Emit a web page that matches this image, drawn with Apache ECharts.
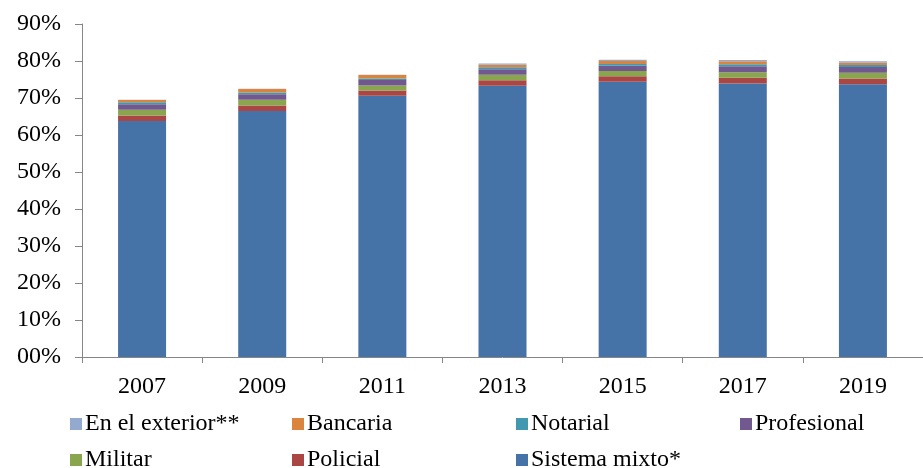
<!DOCTYPE html>
<html>
<head>
<meta charset="utf-8">
<script src="https://cdn.jsdelivr.net/npm/echarts@6/dist/echarts.min.js"></script>
<style>
  html, body { margin: 0; padding: 0; background: #ffffff; }
  #chart { width: 923px; height: 468px; }
</style>
</head>
<body>
<div id="chart"></div>
<script>
// Años de la serie
const years = ['2007', '2009', '2011', '2013', '2015', '2017', '2019'];

// Porcentajes por modalidad (apiladas de abajo hacia arriba)
const sistemaMixto = [63.8, 66.5, 70.6, 73.3, 74.4, 73.9, 73.7];
const policial     = [1.45, 1.5, 1.4, 1.5, 1.45, 1.6, 1.6];
const militar      = [1.55, 1.55, 1.4, 1.5, 1.45, 1.45, 1.55];
const profesional  = [1.5, 1.45, 1.45, 1.45, 1.45, 1.6, 1.5];
const notarial     = [0.55, 0.5, 0.45, 0.55, 0.45, 0.55, 0.6];
const bancaria     = [0.6, 0.9, 0.9, 0.7, 0.8, 0.8, 0.55];
const exterior     = [0.1, 0.1, 0.1, 0.3, 0.35, 0.35, 0.4];

// Marcas del eje vertical
const yTicks = { min: 0, max: 90, interval: 10 };

const FONT = '"Liberation Serif", "DejaVu Serif", serif';
const AXIS_COLOR = '#868686';

const seriesDefs = [
  { name: 'Sistema mixto*',   data: sistemaMixto, color: '#4572A7' },
  { name: 'Policial',         data: policial,     color: '#AA4643' },
  { name: 'Militar',          data: militar,      color: '#89A54E' },
  { name: 'Profesional',      data: profesional,  color: '#71588F' },
  { name: 'Notarial',         data: notarial,     color: '#4198AF' },
  { name: 'Bancaria',         data: bancaria,     color: '#DB843D' },
  { name: 'En el exterior**', data: exterior,     color: '#93A9CF' }
];

// Posición de cada entrada de la leyenda (dos filas, cuatro columnas)
const legendSlots = {
  'En el exterior**': [70, 412],
  'Bancaria':         [292, 412],
  'Notarial':         [516, 412],
  'Profesional':      [740, 412],
  'Militar':          [70, 448],
  'Policial':         [292, 448],
  'Sistema mixto*':   [516, 448]
};

const legends = Object.keys(legendSlots).map(name => ({
  data: [name],
  left: legendSlots[name][0],
  top: legendSlots[name][1],
  itemWidth: 12,
  itemHeight: 12,
  itemGap: 0,
  padding: 0,
  icon: 'rect',
  selectedMode: false,
  textStyle: { fontFamily: FONT, fontSize: 24, color: '#000000', padding: [0, 0, 0, -2] }
}));

const chart = echarts.init(document.getElementById('chart'), null, { renderer: 'canvas' });

chart.setOption({
  animation: false,
  backgroundColor: '#ffffff',
  legend: legends,
  grid: { left: 82, top: 24, width: 845, bottom: 111, containLabel: false },
  xAxis: {
    type: 'category',
    data: years,
    axisLine: { lineStyle: { color: AXIS_COLOR, width: 1 } },
    axisTick: { show: true, alignWithLabel: false, length: 6, lineStyle: { color: AXIS_COLOR } },
    axisLabel: { fontFamily: FONT, fontSize: 24, color: '#000000', margin: 18 }
  },
  yAxis: {
    type: 'value',
    min: yTicks.min,
    max: yTicks.max,
    interval: yTicks.interval,
    axisLine: { show: true, lineStyle: { color: AXIS_COLOR, width: 1 } },
    axisTick: { show: true, length: 7, lineStyle: { color: AXIS_COLOR } },
    splitLine: { show: false },
    axisLabel: {
      fontFamily: FONT, fontSize: 24, color: '#000000', margin: 21,
      formatter: v => (v < 10 ? '0' + v : String(v)) + '%'
    }
  },
  series: seriesDefs.map(s => ({
    name: s.name,
    type: 'bar',
    stack: 'total',
    barWidth: 48,
    data: s.data,
    itemStyle: { color: s.color },
    emphasis: { disabled: true }
  }))
});
</script>
</body>
</html>
